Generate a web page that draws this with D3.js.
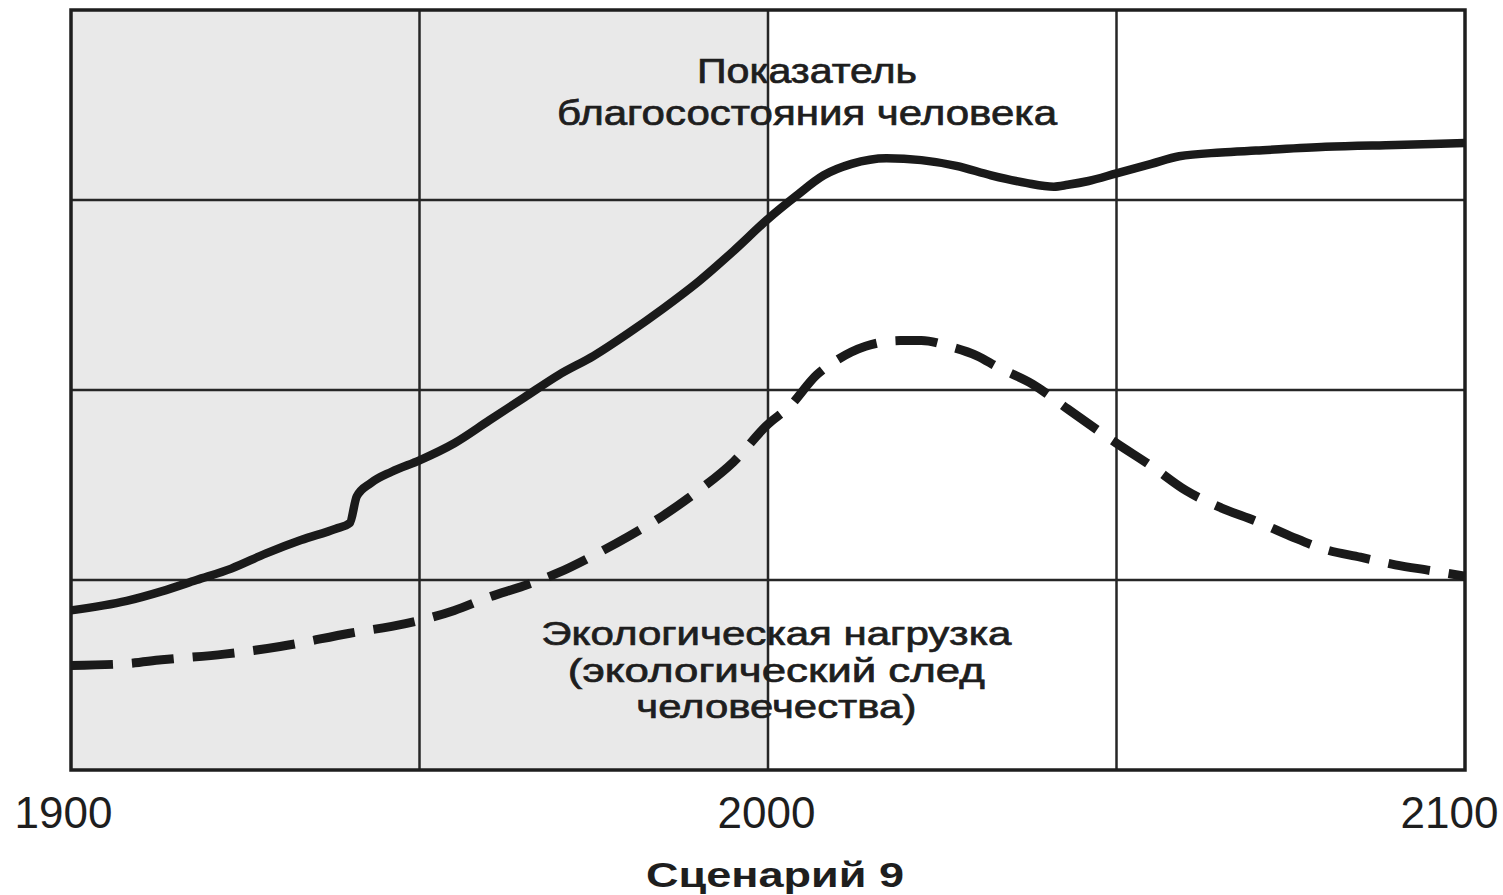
<!DOCTYPE html>
<html>
<head>
<meta charset="utf-8">
<title>Сценарий 9</title>
<script src="https://d3js.org/d3.v7.min.js"></script>
<style>
    body { margin: 0; background: #fff; }
    text { font-family: "Liberation Sans", Arial, sans-serif; fill: #1e1e1e; }
</style>
</head>
<body>
<div id="chart"></div>
<script>
// welfare index (solid line)
var welfareYears = [1900, 1908, 1913, 1918, 1923, 1928, 1933, 1938, 1940, 1941, 1943, 1946, 1950, 1955, 1960, 1965, 1970, 1975, 1980, 1985, 1990, 1995, 2000, 2004, 2008, 2012, 2017, 2022, 2027, 2032, 2037, 2041, 2043, 2046, 2050, 2055, 2059, 2065, 2070, 2080, 2090, 2100];
var welfare = [0.84, 0.89, 0.94, 1.00, 1.06, 1.14, 1.21, 1.27, 1.30, 1.44, 1.51, 1.57, 1.63, 1.72, 1.84, 1.96, 2.08, 2.18, 2.30, 2.43, 2.57, 2.73, 2.90, 3.02, 3.13, 3.19, 3.22, 3.21, 3.18, 3.13, 3.09, 3.07, 3.08, 3.10, 3.14, 3.19, 3.23, 3.25, 3.26, 3.28, 3.29, 3.30];

// ecological footprint (dashed line)
var footprintYears = [1900, 1908, 1913, 1922, 1930, 1940, 1948, 1955, 1960, 1965, 1970, 1975, 1980, 1985, 1990, 1995, 2000, 2003, 2007, 2010, 2014, 2019, 2022, 2026, 2030, 2033, 2038, 2043, 2050, 2055, 2060, 2065, 2070, 2075, 2080, 2085, 2090, 2095, 2100];
var footprint = [0.55, 0.56, 0.58, 0.61, 0.65, 0.72, 0.77, 0.84, 0.91, 0.97, 1.04, 1.13, 1.23, 1.34, 1.47, 1.62, 1.82, 1.91, 2.08, 2.16, 2.23, 2.26, 2.26, 2.23, 2.18, 2.12, 2.03, 1.90, 1.72, 1.60, 1.47, 1.38, 1.31, 1.23, 1.16, 1.12, 1.08, 1.05, 1.02];

var xTicks = [1900, 2000, 2100];
var gridYears = [1950, 2000, 2050];
var gridLevels = [1, 2, 3];

var welfareLabel = ["Показатель", "благосостояния человека"];
var footprintLabel = ["Экологическая нагрузка", "(экологический след", "человечества)"];

var margin = { top: 10, right: 38, bottom: 125, left: 71 },
    width = 1503 - margin.left - margin.right,
    height = 895 - margin.top - margin.bottom;

var svg = d3.select("#chart").append("svg")
    .attr("width", 1503)
    .attr("height", 895)
    .append("g")
    .attr("transform", "translate(" + margin.left + "," + margin.top + ")");

var x = d3.scaleLinear().domain([1900, 2100]).range([0, width]);
var y = d3.scaleLinear().domain([0, 4]).range([height, 0]);

// greyish scan tone on the left half
svg.append("rect")
    .attr("x", x(1900))
    .attr("y", 0)
    .attr("width", x(2000) - x(1900))
    .attr("height", height)
    .style("fill", "#e9e9e9");

// grid
svg.selectAll(".vgrid")
    .data(gridYears)
    .enter().append("line")
    .attr("class", "vgrid")
    .attr("x1", function (d) { return x(d); })
    .attr("x2", function (d) { return x(d); })
    .attr("y1", 0)
    .attr("y2", height)
    .style("stroke", "#262626")
    .style("stroke-width", 2.5);

svg.selectAll(".hgrid")
    .data(gridLevels)
    .enter().append("line")
    .attr("class", "hgrid")
    .attr("x1", 0)
    .attr("x2", width)
    .attr("y1", function (d) { return y(d); })
    .attr("y2", function (d) { return y(d); })
    .style("stroke", "#262626")
    .style("stroke-width", 2.5);

// frame
svg.append("rect")
    .attr("width", width)
    .attr("height", height)
    .style("fill", "none")
    .style("stroke", "#1e1e1e")
    .style("stroke-width", 3.5);

var line = d3.line()
    .curve(d3.curveMonotoneX)
    .x(function (d) { return x(d[0]); })
    .y(function (d) { return y(d[1]); });

svg.append("path")
    .datum(d3.zip(footprintYears, footprint))
    .attr("d", line)
    .style("fill", "none")
    .style("stroke", "#1a1a1a")
    .style("stroke-width", 9)
    .style("stroke-dasharray", "42,19");

svg.append("path")
    .datum(d3.zip(welfareYears, welfare))
    .attr("d", line)
    .style("fill", "none")
    .style("stroke", "#1a1a1a")
    .style("stroke-width", 8.5)
    .style("stroke-linejoin", "round");

// x axis labels
var xAxis = d3.axisBottom(x)
    .tickValues(xTicks)
    .tickSize(0)
    .tickFormat(d3.format("d"));

var gx = svg.append("g")
    .attr("transform", "translate(0," + height + ")")
    .call(xAxis);
gx.select(".domain").remove();
gx.selectAll("text")
    .attr("y", 58)
    .attr("dy", null)
    .attr("dx", function (d) { return d === 1900 ? -8 : (d === 2100 ? -16 : -2); })
    .style("font-size", "44px")
    .style("font-family", "'Liberation Sans', Arial, sans-serif")
    .style("fill", "#1e1e1e");

// series labels (the printed font is wider than Liberation, so stretch to width)
var topWidths = [220, 500];
svg.selectAll(".wlabel")
    .data(welfareLabel)
    .enter().append("text")
    .attr("class", "wlabel")
    .attr("x", x(2005.6))
    .attr("y", function (d, i) { return 73 + i * 42; })
    .attr("text-anchor", "middle")
    .attr("textLength", function (d, i) { return topWidths[i]; })
    .attr("lengthAdjust", "spacingAndGlyphs")
    .style("font-size", "35px")
    .style("stroke", "#1e1e1e")
    .style("stroke-width", 0.7)
    .text(function (d) { return d; });

var bottomWidths = [470, 417, 280];
svg.selectAll(".flabel")
    .data(footprintLabel)
    .enter().append("text")
    .attr("class", "flabel")
    .attr("x", x(2001.2))
    .attr("y", function (d, i) { return [635, 672, 708][i]; })
    .attr("text-anchor", "middle")
    .attr("textLength", function (d, i) { return bottomWidths[i]; })
    .attr("lengthAdjust", "spacingAndGlyphs")
    .style("font-size", "34px")
    .style("stroke", "#1e1e1e")
    .style("stroke-width", 0.7)
    .text(function (d) { return d; });

// title
svg.append("text")
    .attr("x", x(2000) + 7)
    .attr("y", 877)
    .attr("text-anchor", "middle")
    .attr("textLength", 258)
    .attr("lengthAdjust", "spacingAndGlyphs")
    .style("font-size", "35px")
    .style("font-weight", "bold")
    .text("Сценарий 9");
</script>
</body>
</html>
